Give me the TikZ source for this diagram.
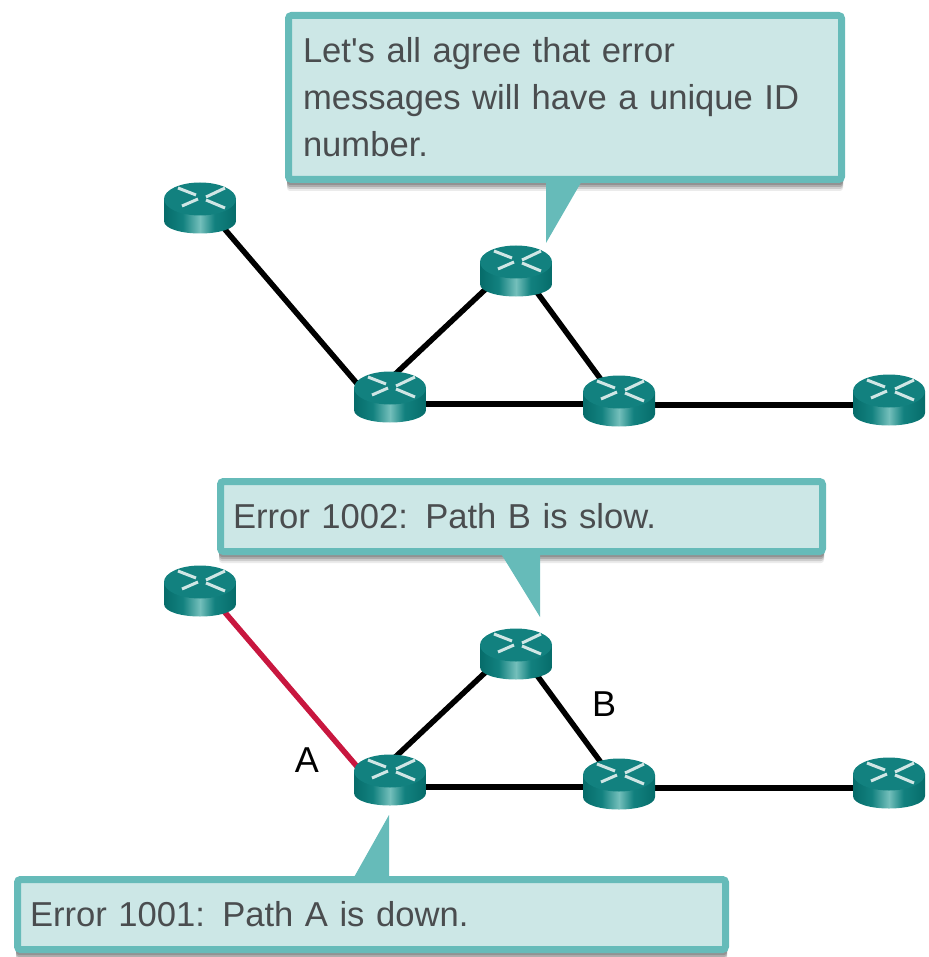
\documentclass[tikz,border=0pt]{standalone}
\usepackage{fontspec}
\setmainfont[WordSpace=0.85]{Liberation Sans}
\usetikzlibrary{backgrounds}

\definecolor{calledge}{HTML}{66BBB9}
\definecolor{callfill}{HTML}{CCE7E6}
\definecolor{calltext}{HTML}{4A4D4F}
\definecolor{routertop}{HTML}{12817F}
\definecolor{routerdark}{HTML}{066C6A}
\definecolor{routerlight}{HTML}{74BFBB}
\definecolor{wirered}{HTML}{C8173F}

\pgfdeclarehorizontalshading{routerbody}{100bp}{color(0bp)=(routerdark); color(25bp)=(routerdark); color(38bp)=(routertop); color(50bp)=(routerlight); color(60bp)=(routertop); color(75bp)=(routerdark); color(100bp)=(routerdark)}

\tikzset{
	router/.style={minimum width=72pt, minimum height=51pt, inner sep=0pt, outer sep=0pt, path picture={
		\begin{scope}[shift={(path picture bounding box.center)}]
			\shade [shading=routerbody] (-36,-9) -- (-36,13) .. controls (-36,21) and (-18,25.5) .. (0,25.5) .. controls (18,25.5) and (36,21) .. (36,13) -- (36,-9) -- cycle;
			\fill [routertop] (0,-9) ellipse [x radius=36, y radius=16.5];
			\begin{scope}[white!80!routertop, line width=3pt]
				\draw (-22,-20) -- (-4,-13);
				\draw (25,-20) -- (6,-11);
				\draw (-18,-2) -- (-2,-9);
				\draw (25,0) -- (6,-8);
			\end{scope}
		\end{scope}
	}},
	wire/.style={line width=5.5pt},
	callout/.style={draw=calledge, fill=callfill, line width=7pt, rounded corners=3pt, anchor=north west, align=left, text=calltext, font=\fontsize{34.6}{47}\selectfont},
	calltail/.style={fill=calledge},
	callshadow/.style={black, rounded corners=3pt},
	pathlabel/.style={font=\fontsize{36}{42}\selectfont, inner sep=0pt}
}

\begin{document}
\begin{tikzpicture}[x=1pt, y=-1pt]
	\useasboundingbox (0,0) rectangle (928,957);

	\foreach \s/\dy in {u/0, l/383} {
		\node [router] (a\s) at (200,208+\dy) {};
		\node [router] (b\s) at (390,397+\dy) {};
		\node [router] (c\s) at (516,271+\dy) {};
		\node [router] (d\s) at (619,401+\dy) {};
		\node [router] (e\s) at (889,400+\dy) {};
	}

	\begin{scope}[on background layer]
		\foreach \s/\c in {u/black, l/wirered} {
			\draw [wire, \c] ([shift={(22,18)}]a\s.center) -- ([shift={(-30,-10)}]b\s.center);
		}
		\foreach \s in {u, l} {
			\draw [wire] ([shift={(0,-18)}]b\s.center) -- ([shift={(-26,14)}]c\s.center);
			\draw [wire] ([shift={(20,20)}]c\s.center) -- ([shift={(-14,-16)}]d\s.center);
			\draw [wire] ([shift={(0,7)}]b\s.center) -- ([shift={(0,3)}]d\s.center);
			\draw [wire] ([shift={(0,4)}]d\s.center) -- ([shift={(0,5)}]e\s.center);
		}
	\end{scope}

	\node [pathlabel] (labela) at (307,760) {A};
	\node [pathlabel] (labelb) at (604,704) {B};

	\node [callout, minimum width=553pt, minimum height=164pt, text width=524pt, inner xsep=14.5pt] (callagree) at (285,12) {Let\textquotesingle s all agree that error\\messages will have a unique ID\\number.};
	\node [callout, minimum width=602pt, minimum height=70pt, text width=577pt, inner xsep=12.5pt] (callslow) at (217,478) {Error 1002: Path B is slow.};
	\node [callout, minimum width=708pt, minimum height=70pt, text width=683pt, inner xsep=12.5pt] (calldown) at (14,876) {Error 1001: Path A is down.};

	\begin{scope}[on background layer]
		\foreach \n in {callagree, callslow, calldown} {
			\foreach \o/\f in {2/0.16, 4/0.16, 6/0.12, 8/0.08} {
				\fill [callshadow, opacity=\f] ([shift={(2,\o)}]\n.south west) rectangle ([shift={(-2,-20)}]\n.south east);
			}
		}
	\end{scope}

	\coordinate (tipagree) at (546,243);
	\coordinate (baseagree) at (583,179);
	\coordinate (tipslow) at (540,617);
	\coordinate (baseslow) at (500,552);
	\coordinate (tipdown) at (389,815);
	\coordinate (basedown) at (353,879);

	\fill [calltail] (tipagree |- baseagree) -- (tipagree) -- (baseagree) -- cycle;
	\fill [calltail] (tipslow |- baseslow) -- (tipslow) -- (baseslow) -- cycle;
	\fill [calltail] (tipdown |- basedown) -- (tipdown) -- (basedown) -- cycle;
\end{tikzpicture}
\end{document}
